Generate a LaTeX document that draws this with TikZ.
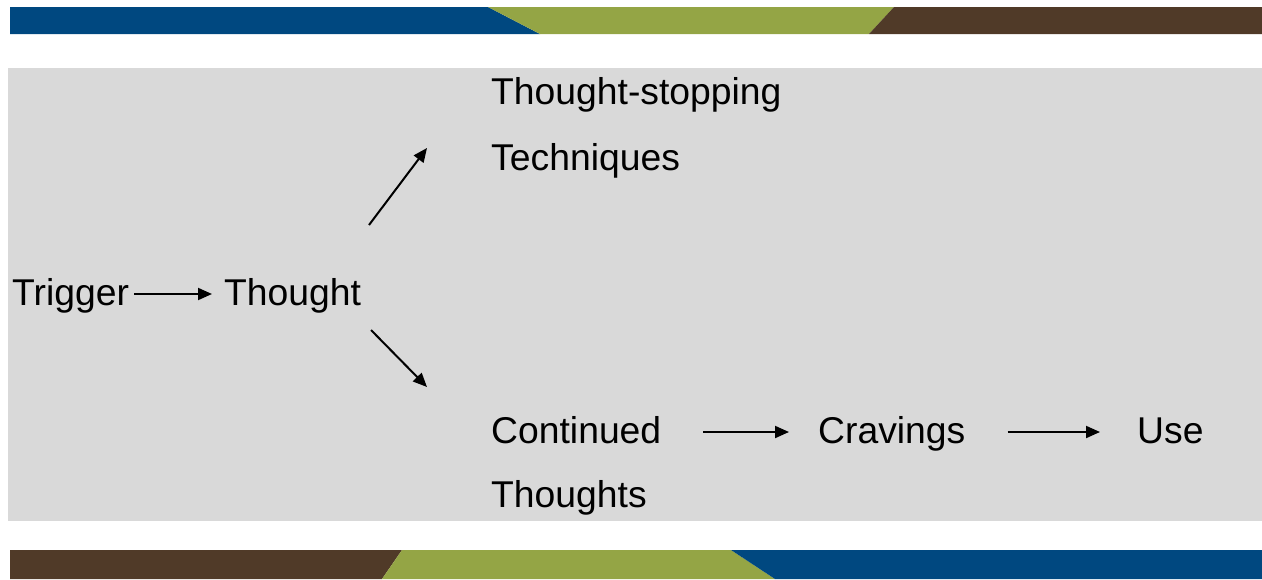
\documentclass[tikz,border=0pt]{standalone}
\usepackage{fontspec}
\setmainfont{Liberation Sans}
\usepackage{tikz}
\usetikzlibrary{arrows.meta}

\definecolor{barblue}{RGB}{0,72,128}
\definecolor{bargreen}{RGB}{148,165,69}
\definecolor{barbrown}{RGB}{80,58,40}
\definecolor{panel}{RGB}{217,217,217}

\tikzset{
  word/.style={anchor=base west, inner sep=0pt, text height=30pt, text depth=8pt,
    font=\fontsize{37.3}{44}\selectfont},
  arr/.style={line width=2pt, -{Triangle[length=14pt,width=12pt]}}
}

\begin{document}
\begin{tikzpicture}[x=1pt,y=-1pt]
\useasboundingbox (0,0) rectangle (1262,579);
% bars
\fill[barblue] (10,7) -- (488,7) -- (540,34) -- (10,34) -- cycle;
\fill[bargreen] (488,7) -- (894,7) -- (869,34) -- (540,34) -- cycle;
\fill[barbrown] (894,7) -- (1262,7) -- (1262,34) -- (869,34) -- cycle;
\fill[barbrown] (10,550) -- (402,550) -- (382,579) -- (10,579) -- cycle;
\fill[bargreen] (402,550) -- (731,550) -- (775,579) -- (382,579) -- cycle;
\fill[barblue] (731,550) -- (1262,550) -- (1262,579) -- (775,579) -- cycle;
\fill[panel] (8,68) rectangle (1262,521);
% words
\node[word] (trigger) at (12,305) {Trigger};
\node[word] (thought) at (224,305) {Thought};
\node[word] (stop1) at (491,104) {Thought-stopping};
\node[word] (stop2) at (491,170) {Techniques};
\node[word] (cont1) at (491,443) {Continued};
\node[word] (cont2) at (491,507) {Thoughts};
\node[word] (crave) at (818,443) {Cravings};
\node[word] (use) at (1137,443) {Use};
% arrows
\coordinate (upfoot) at (369,225);
\coordinate (uptip) at (427,148);
\coordinate (downfoot) at (371,330);
\coordinate (downtip) at (427,387);
\draw[arr, shorten <=5pt, shorten >=12pt] (trigger) -- (thought);
\draw[arr] (upfoot) -- (uptip);
\draw[arr] (downfoot) -- (downtip);
\draw[arr, shorten <=42pt, shorten >=29pt] (cont1) -- (crave);
\draw[arr, shorten <=42pt, shorten >=37pt] (crave) -- (use);
\end{tikzpicture}
\end{document}
